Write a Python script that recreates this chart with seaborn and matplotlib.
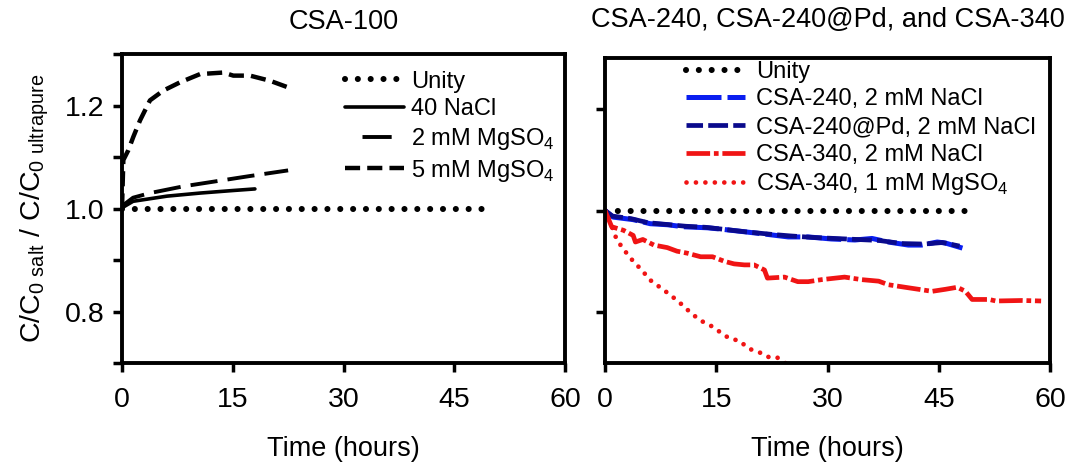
import seaborn as sns
import matplotlib.pyplot as plt
import numpy as np
import pandas as pd

# values
unity_t = [0, 50]
unity_v = [1.0, 1.0]

# CSA-100 panel
nacl40_t = [0, 0.2, 1.5, 6.1, 10.6, 15.1, 18.0]
nacl40_v = [1.0, 1.003, 1.014, 1.024, 1.030, 1.035, 1.038]

mg2_t = [0, 0.3, 1.5, 3.8, 8.3, 12.8, 17.3, 22.5]
mg2_v = [1.0, 1.008, 1.021, 1.030, 1.043, 1.053, 1.063, 1.074]

mg5_t = [0, 0.18, 0.85, 1.53, 2.44, 3.79, 5.6, 7.86, 10.57, 13.73, 15.08, 17.34, 20.05, 22.53]
mg5_v = [1.0, 1.094, 1.113, 1.139, 1.171, 1.21, 1.229, 1.245, 1.261, 1.264, 1.258, 1.258, 1.248, 1.235]

# CSA-240 / CSA-240@Pd / CSA-340 panel
c240_t = [0, 1.1, 3.8, 6.1, 8.4, 10.6, 13.8, 15.2, 18.3, 21.9, 24.7, 27.4, 30.5, 33.7,
          36.0, 38.2, 40.9, 42.7, 44.8, 45.9, 48.2]
c240_v = [1.0, 0.987, 0.982, 0.974, 0.972, 0.968, 0.966, 0.964, 0.959, 0.953, 0.948, 0.948,
          0.944, 0.942, 0.945, 0.938, 0.932, 0.932, 0.938, 0.936, 0.926]

pd_t = [0, 1.0, 3.5, 5.8, 8.0, 10.9, 13.5, 16.0, 19.0, 22.5, 25.0, 28.0, 31.0, 34.0,
        37.0, 40.0, 43.0, 45.5, 47.8]
pd_v = [1.0, 0.989, 0.984, 0.976, 0.973, 0.969, 0.967, 0.963, 0.958, 0.953, 0.950, 0.947,
        0.945, 0.943, 0.941, 0.935, 0.934, 0.937, 0.930]

c340n_t = [0, 0.9, 2.5, 3.8, 4.1, 5.1, 6.6, 8.4, 9.7, 11.1, 12.9, 14.5, 16.1, 17.4, 18.8,
           20.1, 21.5, 21.9, 24.2, 26.0, 27.4, 29.2, 32.3, 34.6, 36.9, 38.2, 40.9, 44.1,
           45.9, 47.5, 48.6, 49.5, 51.8, 52.7, 56.3, 58.8]
c340n_v = [1.0, 0.968, 0.961, 0.951, 0.938, 0.943, 0.932, 0.927, 0.920, 0.916, 0.909, 0.909,
           0.900, 0.895, 0.893, 0.893, 0.883, 0.867, 0.869, 0.860, 0.860, 0.864, 0.869, 0.864,
           0.861, 0.854, 0.848, 0.841, 0.845, 0.849, 0.841, 0.825, 0.825, 0.822, 0.823, 0.822]

c340m_t = [0, 0.7, 1.6, 2.7, 3.7, 5.0, 6.1, 7.5, 8.8, 10.2, 11.4, 12.8, 14.1, 15.5, 16.8,
           18.1, 19.4, 20.7, 21.9, 23.1, 24.4]
c340m_v = [1.0, 0.977, 0.942, 0.920, 0.902, 0.882, 0.863, 0.848, 0.834, 0.817, 0.801, 0.784,
           0.775, 0.761, 0.748, 0.744, 0.728, 0.722, 0.712, 0.712, 0.699]

x_ticks = [0, 15, 30, 45, 60]

sns.set_style('ticks')
plt.rcParams['font.family'] = ['Liberation Sans', 'DejaVu Sans']
plt.rcParams['mathtext.fontset'] = 'custom'
plt.rcParams['mathtext.rm'] = 'Liberation Sans'
plt.rcParams['text.color'] = 'black'
plt.rcParams['axes.labelcolor'] = 'black'
plt.rcParams['xtick.color'] = 'black'
plt.rcParams['ytick.color'] = 'black'

fig = plt.figure(figsize=(10.65, 4.65), dpi=100)
ax1 = fig.add_axes([122/1065, 102/465, 443/1065, 309/465])
ax2 = fig.add_axes([605/1065, 102/465, 445/1065, 305/465])

dots = (0, (0.001, 2.1))

left_series = [
    (unity_t, unity_v, 'Unity', 'black', 4.4, dots, 'round'),
    (nacl40_t, nacl40_v, '40 NaCl', 'black', 2.6, '-', 'butt'),
    (mg2_t, mg2_v, r'2 mM MgSO$_\mathregular{4}$', 'black', 2.8, (0, (7.0, 2.6)), 'butt'),
    (mg5_t, mg5_v, r'5 mM MgSO$_\mathregular{4}$', 'black', 3.2, (0, (3.4, 1.6)), 'butt'),
]
right_series = [
    (unity_t, unity_v, 'Unity', 'black', 4.4, dots, 'round'),
    (c240_t, c240_v, 'CSA-240, 2 mM NaCl', '#0a1ef0', 3.6, (0, (7.0, 1.2)), 'butt'),
    (pd_t, pd_v, 'CSA-240@Pd, 2 mM NaCl', '#0a0a8c', 3.4, (0, (4.2, 1.1)), 'butt'),
    (c340n_t, c340n_v, 'CSA-340, 2 mM NaCl', '#f01414', 3.4, (0, (5.0, 0.8, 1.0, 0.8)), 'butt'),
    (c340m_t, c340m_v, r'CSA-340, 1 mM MgSO$_\mathregular{4}$', '#f01414', 3.4, (0, (0.001, 2.0)), 'round'),
]

for ax, series in [(ax1, left_series), (ax2, right_series)]:
    for t, v, lab, col, lw, ls, cap in series:
        df = pd.DataFrame({'t': t, 'v': v})
        sns.lineplot(data=df, x='t', y='v', ax=ax, label=lab, color=col, linewidth=lw,
                     linestyle=ls, dash_capstyle=cap, estimator=None, sort=False)

for ax in [ax1, ax2]:
    ax.set_xlim(0, 60)
    ax.set_ylim(0.7, 1.3)
    ax.set_xticks(x_ticks)
    ax.set_xticklabels([str(x) for x in x_ticks])
    ax.tick_params(axis='x', direction='out', length=6.5, width=2.5, pad=11, labelsize=20.5)
    ax.tick_params(axis='y', direction='out', length=6.5, width=2.5, pad=6, labelsize=20.5)
    for sp in ax.spines.values():
        sp.set_visible(True)
        sp.set_linewidth(2.8)
        sp.set_color('black')
    ax.set_xlabel('Time (hours)', fontsize=19.5, labelpad=16)

ax1.set_yticks([0.7, 0.8, 0.9, 1.0, 1.1, 1.2, 1.3])
ax1.set_yticklabels(['', '0.8', '', '1.0', '', '1.2', ''])
ax2.set_yticks([0.8, 1.0, 1.2])
ax2.set_yticklabels([])
ax2.set_ylabel('')

ax1.set_ylabel(r'C/C$_\mathregular{0\ salt}$ / C/C$_\mathregular{0\ ultrapure}$', fontsize=20.5, labelpad=10)

ax1.set_title('CSA-100', fontsize=19.5, pad=18)
ax2.set_title('CSA-240, CSA-240@Pd, and CSA-340', fontsize=19.5, pad=22)

leg1 = ax1.legend(loc='upper left', bbox_to_anchor=(0.465, 1.0), frameon=False, fontsize=17,
                  handlelength=2.5, handletextpad=0.3, labelspacing=0.24, borderpad=0.2)
# the long-dash handle shows one centred dash, as in the original
leg1.get_lines()[2].set_linestyle((13.0, (7.5, 10.0)))

leg2 = ax2.legend(loc='upper left', bbox_to_anchor=(0.145, 1.045), frameon=False, fontsize=17,
                  handlelength=2.5, handletextpad=0.45, labelspacing=0.24, borderpad=0.2)
leg2.get_lines()[2].set_linestyle((6.0, (4.2, 1.1)))

fig.savefig('out.png', dpi=100)
plt.close(fig)
